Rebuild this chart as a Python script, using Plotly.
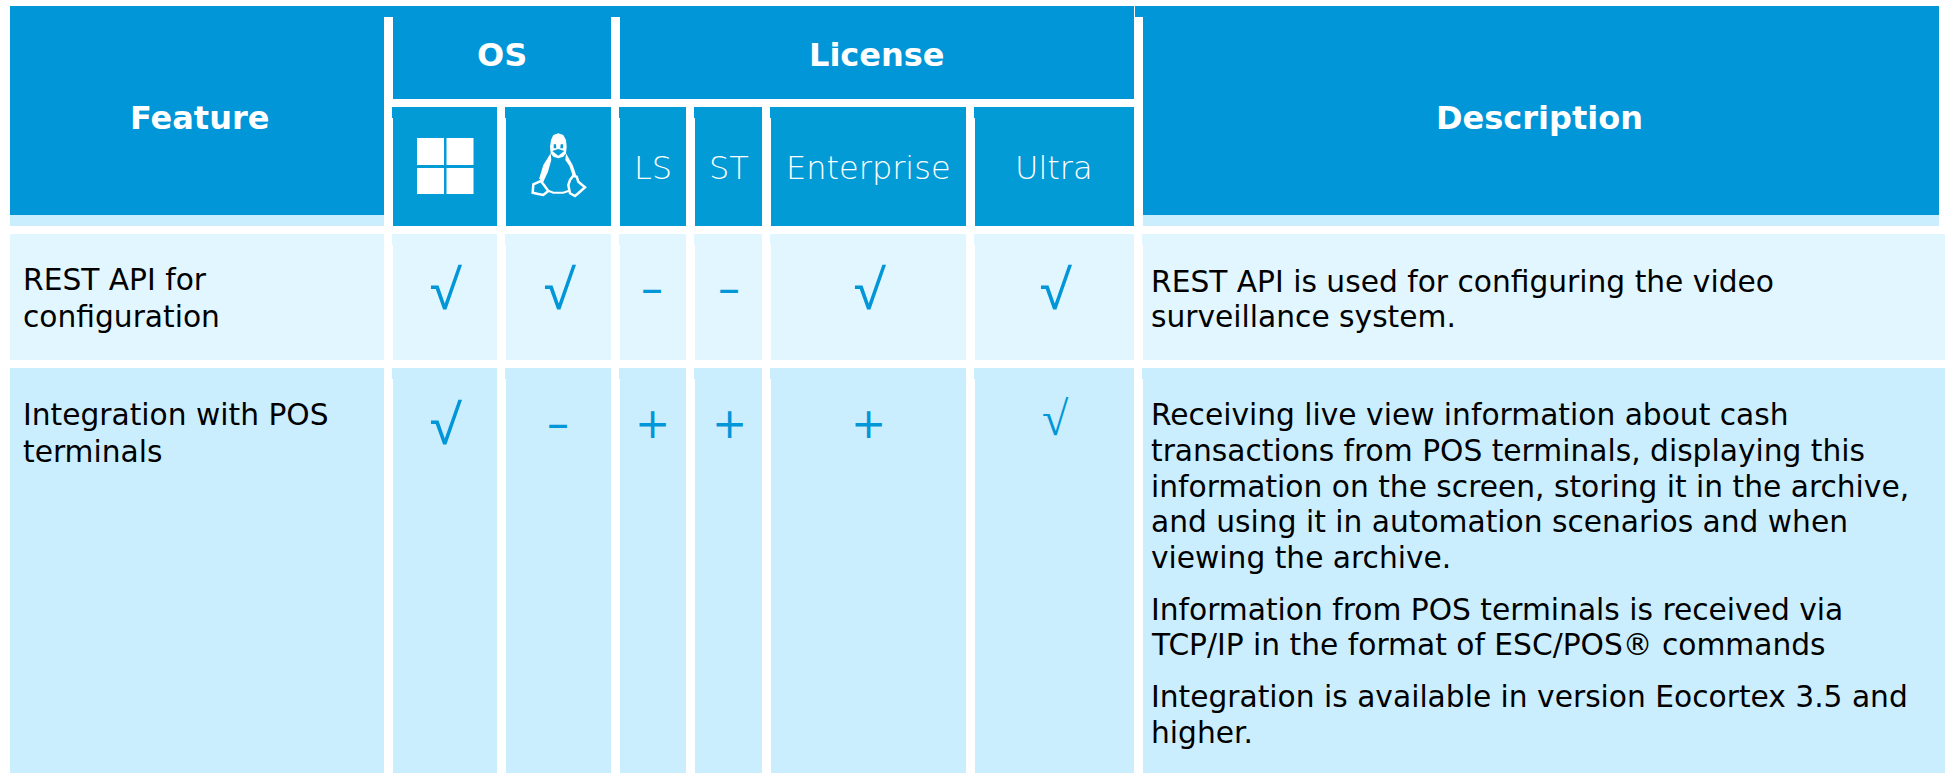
import plotly.graph_objects as go

W, H = 1946, 773
HEAD = "#0096D7"; SUB = "#029BD6"; ROW1 = "#E2F6FF"; ROW2 = "#CBEEFF"; MARK = "#0096D7"
FONT = "DejaVu Sans"

col_x = {"feature": (10, 384), "win": (393, 497), "linux": (506, 611), "ls": (620, 686),
         "st": (695, 762), "ent": (771, 966), "ultra": (975, 1134), "desc": (1143, 1945)}

group_titles = ["Feature", "OS", "License", "Description"]
group_pos = [(199, 118), (502, 55), (877, 55), (1539, 118)]
sub_titles = ["LS", "ST", "Enterprise", "Ultra"]
sub_pos = [653, 729, 868, 1054]

row_labels = [("REST API for", 21, 279), ("configuration", 21, 316),
              ("Integration with POS", 21, 414), ("terminals", 21, 451)]
desc_lines = ["REST API is used for configuring the video", "surveillance system.",
              "Receiving live view information about cash",
              "transactions from POS terminals, displaying this",
              "information on the screen, storing it in the archive,",
              "and using it in automation scenarios and when", "viewing the archive.",
              "Information from POS terminals is received via",
              "TCP/IP in the format of ESC/POS® commands",
              "Integration is available in version Eocortex 3.5 and", "higher."]
desc_y = [281, 316, 414, 450, 486, 521, 557, 609, 644, 696, 732]

checks_x = [446, 560, 870, 1056, 446]
checks_y = [288, 288, 288, 288, 423]
minus_x = [652, 729, 558]
minus_y = [288, 288, 423]
plus_x = [652, 729, 868]
plus_y = [423, 423, 423]

shapes = []
def rect(x0, y0, x1, y1, c):
    shapes.append(dict(type="rect", x0=x0, y0=y0, x1=x1, y1=y1, fillcolor=c, line_width=0, layer="below"))

rect(10, 6, 1134, 17, HEAD); rect(1135, 6, 1939, 17, HEAD)
rect(10, 17, 384, 215, HEAD); rect(10, 215, 384, 226, ROW2)
rect(1143, 17, 1939, 215, HEAD); rect(1143, 215, 1939, 226, ROW2)
rect(393, 17, 611, 99, HEAD); rect(620, 17, 1134, 99, HEAD)
for k in ["win", "linux", "ls", "st", "ent", "ultra"]:
    a, b = col_x[k]
    rect(a - 1, 107, b, 118, SUB); rect(a, 118, b, 226, SUB)
for top, bot, c in [(234, 360, ROW1), (368, 773, ROW2)]:
    for k, (a, b) in col_x.items():
        n = 0 if k == "feature" else 1
        rect(a - n, top, b, top + 11, c)
        rect(a, top + 11, b, bot, c)

for x0, x1 in [(417, 444), (446.5, 473.5)]:
    for y0, y1 in [(138, 165), (168, 194)]:
        shapes.append(dict(type="rect", x0=x0, y0=y0, x1=x1, y1=y1, fillcolor="white", line_width=0))

def path(pts, fill=None, lw=0, close=True):
    conv = [(520 + x / 3, 125 + y / 3) for x, y in pts]
    d = "M " + " L ".join(f"{x:.1f},{y:.1f}" for x, y in conv) + (" Z" if close else "")
    s = dict(type="path", path=d, line=dict(color="white", width=lw))
    if fill:
        s["fillcolor"] = fill
    shapes.append(s)
path([(92,85),(70,120),(58,160),(68,175),(84,140),(94,105)], "white")
path([(138,85),(158,120),(170,155),(158,152),(148,122),(136,105)], "white")
path([(115,25),(130,30),(138,45),(140,65),(138,85),(130,95),(115,100),(100,95),(92,85),(90,65),(93,45),(100,30)], "white")
path([(101,58),(108,58),(109,70),(101,70)], SUB)
path([(122,58),(129,58),(129,70),(121,70)], SUB)
path([(97,78),(115,72),(133,78),(115,92)], SUB)
path([(40,178),(62,168),(72,180),(85,198),(70,210),(55,207),(38,203)], SUB, 2.5)
path([(150,165),(160,152),(170,155),(175,170),(195,187),(175,205),(165,213),(150,205),(145,180)], SUB, 2.5)
path([(85,197),(100,203),(130,203),(147,197)], None, 2, close=False)

ann = []
def text(t, x, y, size, color, anchor="center", family=FONT, bold=False):
    ann.append(dict(text=f"<b>{t}</b>" if bold else t, x=x, y=y, xref="x", yref="y", xanchor=anchor,
                    yanchor="middle", showarrow=False, font=dict(family=family, size=size, color=color)))

for t, (x, y) in zip(group_titles, group_pos):
    text(t, x, y, 32, "white", bold=True)
for t, x in zip(sub_titles, sub_pos):
    text(t, x, 168, 32, "white", family="DejaVu Sans Light")
for t, x, y in row_labels:
    text(t, x, y, 29.7, "black", "left")
for t, y in zip(desc_lines, desc_y):
    text(t, 1149, y, 29.7, "black", "left")
for x, y in zip(checks_x, checks_y):
    text("√", x, y, 54, MARK, family="Open Sans")
for x, y in zip(minus_x, minus_y):
    text("–", x, y, 44, MARK)
for x, y in zip(plus_x, plus_y):
    text("+", x, y, 42, MARK)
text("√", 1055, 418, 48, MARK, family="Liberation Serif")

fig = go.Figure()
fig.update_layout(width=W, height=H, margin=dict(l=0, r=0, t=0, b=0), paper_bgcolor="white", plot_bgcolor="white",
                  xaxis=dict(range=[0, W], visible=False, fixedrange=True),
                  yaxis=dict(range=[H, 0], visible=False, fixedrange=True),
                  shapes=shapes, annotations=ann, showlegend=False)
fig.write_html("out.html", config={"displayModeBar": False},
               post_script="document.body.style.margin='0';")
